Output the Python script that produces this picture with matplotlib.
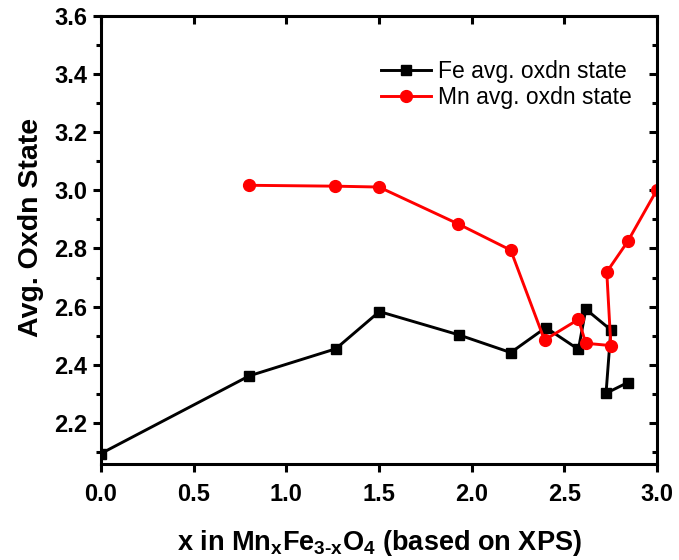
import matplotlib
matplotlib.use("Agg")
import matplotlib.pyplot as plt
from matplotlib.ticker import MultipleLocator, FormatStrFormatter

plt.rcParams['font.family'] = ['Liberation Sans', 'DejaVu Sans']
plt.rcParams['mathtext.fontset'] = 'custom'
plt.rcParams['mathtext.rm'] = 'Liberation Sans:bold'
plt.rcParams['mathtext.it'] = 'Liberation Sans:bold'
plt.rcParams['mathtext.bf'] = 'Liberation Sans:bold'
plt.rcParams['mathtext.default'] = 'rm'

fe_x = [0.0, 0.80, 1.267, 1.502, 1.930, 2.211, 2.400, 2.576, 2.616, 2.751, 2.725, 2.842]
fe_y = [2.095, 2.362, 2.455, 2.583, 2.503, 2.442, 2.528, 2.453, 2.591, 2.520, 2.302, 2.339]

mn_x = [0.80, 1.265, 1.500, 1.928, 2.211, 2.393, 2.576, 2.616, 2.751, 2.729, 2.842, 3.0]
mn_y = [3.017, 3.014, 3.011, 2.884, 2.794, 2.485, 2.556, 2.474, 2.466, 2.719, 2.824, 3.002]

fe_label = 'Fe avg. oxdn state'
mn_label = 'Mn avg. oxdn state'
x_label = r'x in Mn$_{x}$Fe$_{\text{3-x}}$O$_{4}$ (based on XPS)'
y_label = 'Avg. Oxdn State'

fig = plt.figure(figsize=(6.79, 5.60), dpi=100)
ax = fig.add_axes([101/679, 1-463.7/560, (657-101)/679, (463.7-15.7)/560])

ax.plot(fe_x, fe_y, color='black', lw=2.1, marker='s', ms=7, label=fe_label)
ax.plot(mn_x, mn_y, color='#ff0000', lw=2.1, marker='o', ms=8.5, label=mn_label)

ax.set_xlim(0, 3.0)
ax.set_ylim(2.06, 3.6)
ax.xaxis.set_major_locator(MultipleLocator(0.5))
ax.yaxis.set_major_locator(MultipleLocator(0.2))
ax.yaxis.set_minor_locator(MultipleLocator(0.1))
ax.xaxis.set_major_formatter(FormatStrFormatter('%.1f'))
ax.yaxis.set_major_formatter(FormatStrFormatter('%.1f'))

for s in ax.spines.values():
    s.set_linewidth(2.2)

ax.tick_params(axis='both', which='major', direction='out', length=6, width=2.2,
               labelsize=17, pad=4)
ax.tick_params(axis='x', which='major', pad=8)
ax.tick_params(axis='y', which='minor', direction='out', length=3.5, width=2.2)
for lab in ax.get_xticklabels() + ax.get_yticklabels():
    lab.set_fontweight('bold')

top = ax.secondary_xaxis('top')
top.xaxis.set_major_locator(MultipleLocator(0.5))
top.tick_params(direction='in', length=6, width=2.2, labeltop=False)
right = ax.secondary_yaxis('right')
right.yaxis.set_major_locator(MultipleLocator(0.2))
right.yaxis.set_minor_locator(MultipleLocator(0.1))
right.tick_params(which='major', direction='in', length=6, width=2.2, labelright=False)
right.tick_params(which='minor', direction='in', length=3.5, width=2.2)

ax.set_xlabel(x_label, fontsize=19.5, fontweight='bold', labelpad=16)
ax.set_ylabel(y_label, fontsize=20.5, fontweight='bold')
ax.yaxis.set_label_coords(-0.103, 0.527)

leg = ax.legend(loc='upper right', bbox_to_anchor=(0.979, 0.932), frameon=False,
                fontsize=16.5, handlelength=2.2, handletextpad=0.3, labelspacing=0.15,
                borderaxespad=0.2)

fig.savefig('out.png', dpi=100)
